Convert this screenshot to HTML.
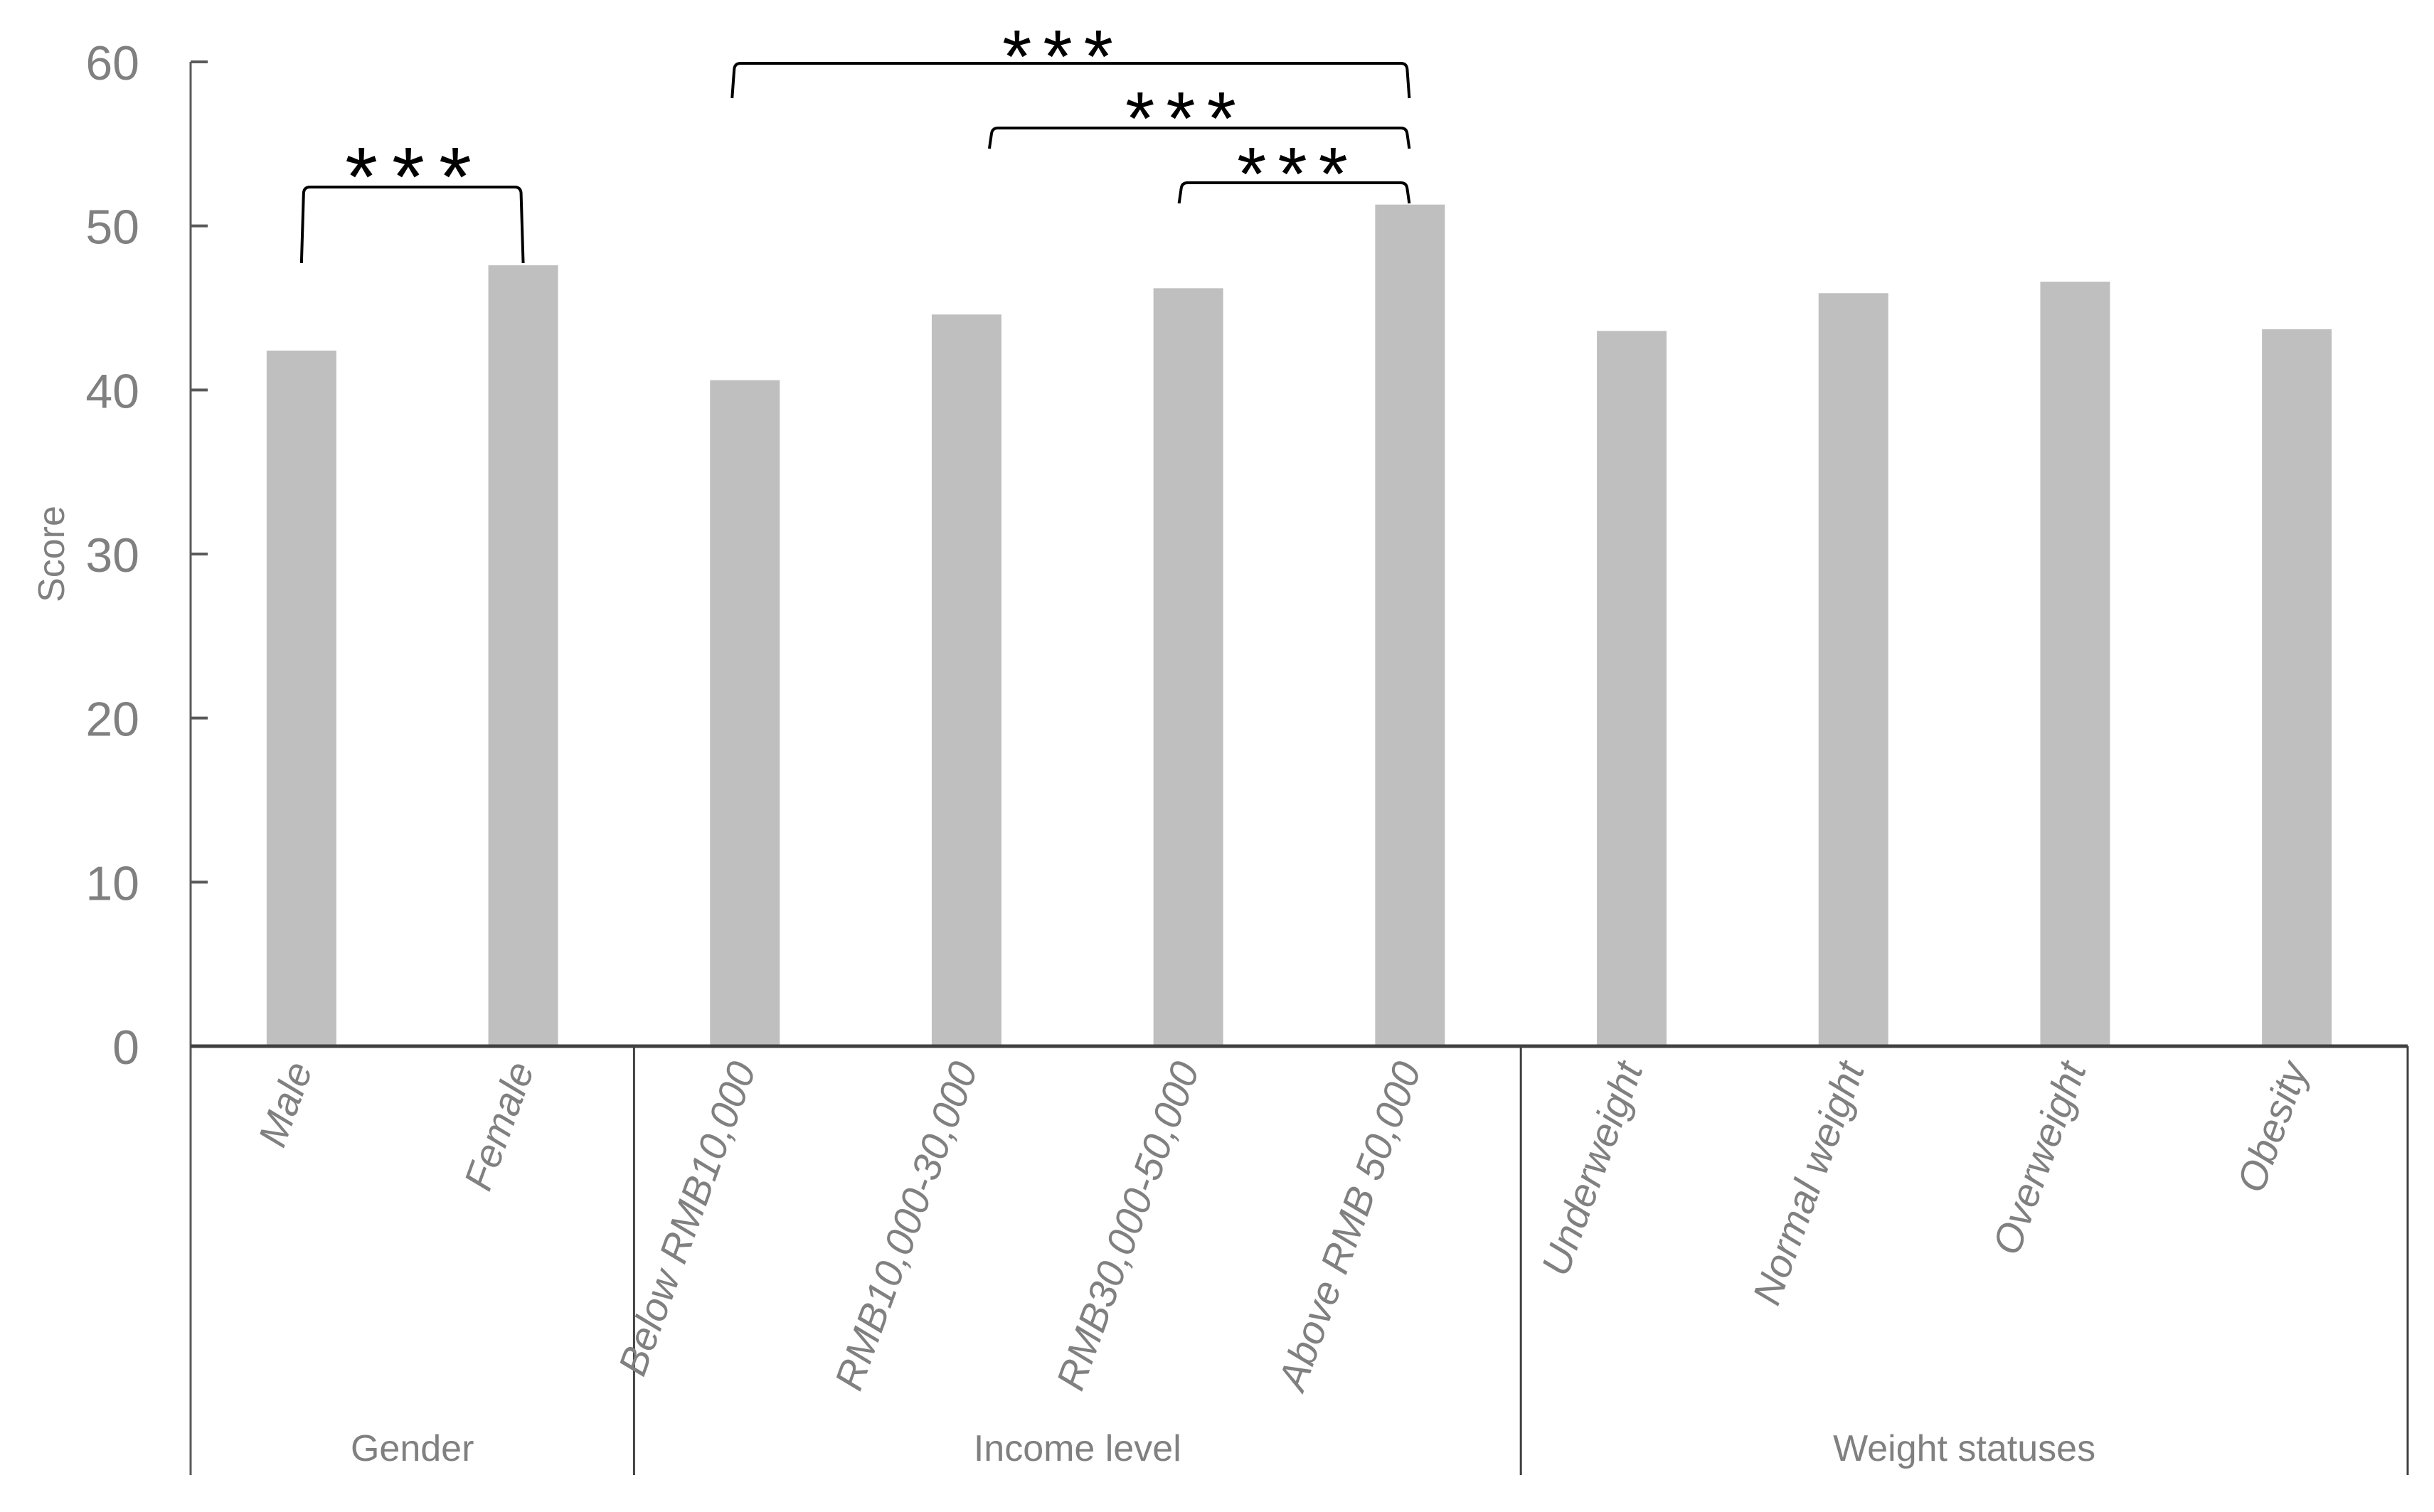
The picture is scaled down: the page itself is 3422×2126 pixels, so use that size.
<!DOCTYPE html>
<html><head><meta charset="utf-8"><style>
html,body{margin:0;padding:0;background:#fff;}
svg{display:block;font-family:"Liberation Sans",sans-serif;}
</style></head><body>
<svg id="chart" width="3422" height="2126" viewBox="0 0 3422 2126" xmlns="http://www.w3.org/2000/svg">
<g id="grid"></g><g id="bars"></g><g id="axes"></g><g id="labels"></g><g id="sig"></g>
</svg>
<script>
const categories = ["Male","Female","Below RMB10,000","RMB10,000-30,000","RMB30,000-50,000","Above RMB 50,000","Underweight","Normal weight","Overweight","Obesity"];
const values = [42.4, 47.6, 40.6, 44.6, 46.2, 51.3, 43.6, 45.9, 46.6, 43.7];
const groups = ["Gender","Income level","Weight statuses"];
const groupSizes = [2, 4, 4];
const yTicks = [0, 10, 20, 30, 40, 50, 60];
// significance comparisons: [fromIndex, toIndex]
const sigPairs = [[0,1],[2,5],[3,5],[4,5]];
const sigLabels = ["***","***","***","***"];

const NS = "http://www.w3.org/2000/svg";
const X0 = 268, X1 = 3385, Y0 = 1471, YTOP = 87, YMAX = 60;
const slot = (X1 - X0) / categories.length;
const xc = i => X0 + slot * (i + 0.5);
const y = v => Y0 - (Y0 - YTOP) * v / YMAX;
function mk(tag, attrs, parent, text) {
  const e = document.createElementNS(NS, tag);
  for (const k in attrs) e.setAttribute(k, attrs[k]);
  if (text !== undefined) e.textContent = text;
  document.getElementById(parent).appendChild(e);
  return e;
}
categories.forEach((c, i) => {
  const b = mk("rect", {x: xc(i) - 49, y: y(values[i]), width: 98, height: Y0 - y(values[i]), fill: "#bfbfbf"}, "bars");
  
  
  const t = mk("text", {transform: `translate(${xc(i) + 16},1502) rotate(-70)`, "text-anchor": "end", "font-size": 56, "font-style": "italic", fill: "#808080"}, "labels", c);
  
  
});
const ya = mk("line", {x1: X0, y1: YTOP, x2: X0, y2: 2074, stroke: "#595959", "stroke-width": 3}, "axes");


yTicks.forEach(v => {
  const tk = mk("line", {x1: X0, y1: y(v), x2: 292, y2: y(v), stroke: "#595959", "stroke-width": 4}, "axes");
  
  
  const tl = mk("text", {x: 196, y: y(v) + 25, "text-anchor": "end", "font-size": 68, fill: "#808080"}, "labels", String(v));
  
  
});
const xa = mk("line", {x1: X0, y1: Y0, x2: X1, y2: Y0, stroke: "#404040", "stroke-width": 5}, "axes");


const yt = mk("text", {transform: "translate(90,779) rotate(-90)", "text-anchor": "middle", "font-size": 52, fill: "#808080"}, "labels", "Score");


let start = 0;
groups.forEach((g, gi) => {
  const end = start + groupSizes[gi];
  const xs = X0 + slot * start, xe = X0 + slot * end;
  const sep = mk("line", {x1: xe, y1: Y0, x2: xe, y2: 2074, stroke: "#404040", "stroke-width": 3}, "axes");
  
  
  const gl = mk("text", {x: (xs + xe) / 2, y: 2054, "text-anchor": "middle", "font-size": 52, fill: "#808080"}, "labels", g);
  
  
  start = end;
});
const brTop = [263, 89, 180, 257];
const brLeftShift = [0, -18, 32, -13];
sigPairs.forEach((p, k) => {
  const xa_ = xc(p[0]) + brLeftShift[k], xb = xc(p[1]) + (k === 0 ? 0 : -1);
  const top = brTop[k];
  const bottom = k === 0 ? 370 : top + (k === 1 ? 49 : 29);
  const pth = mk("path", {d: `M${xa_},${bottom} L${xa_+3},${top+8} Q${xa_+4},${top} ${xa_+12},${top} L${xb-12},${top} Q${xb-4},${top} ${xb-3},${top+8} L${xb},${bottom}`, fill: "none", stroke: "#000", "stroke-width": 4}, "sig");
  
  
  const cxs = [584, 1495, 1668, 1825];
  const sy = [227, 54, 141, 219][k] + 62;
  const st = mk("text", {x: cxs[k], y: sy, "text-anchor": "middle", "font-size": k === 0 ? 118 : 106, "letter-spacing": k === 0 ? 20 : 16, fill: "#000"}, "sig", sigLabels[k]);
  
  
});
</script>
</body></html>
